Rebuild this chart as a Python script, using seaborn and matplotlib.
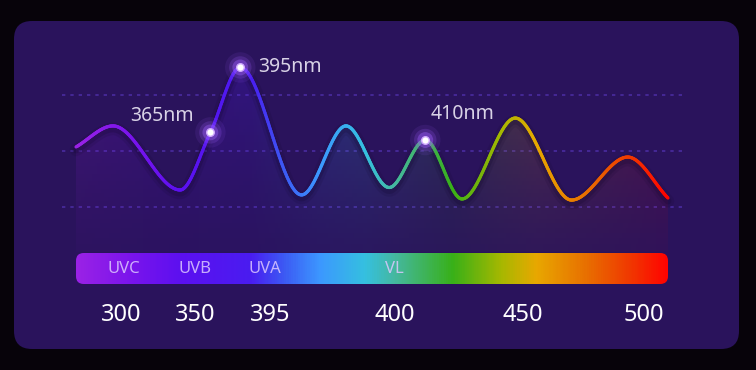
import numpy as np
import seaborn as sns
import matplotlib
matplotlib.use("Agg")
import matplotlib.pyplot as plt
import matplotlib.transforms as mtransforms
from matplotlib.colors import LinearSegmentedColormap
from matplotlib.collections import LineCollection
from matplotlib.patches import FancyBboxPatch

# curve key points (position along the spectrum 0-100, relative intensity)
curve_pos = [0.0, 6.25, 17.6, 22.7, 27.75, 38.1, 45.6, 52.9, 59.0, 65.2, 74.2, 83.7, 93.2, 100.0]
curve_val = [51.8, 61.2, 32.6, 58.3, 87.3, 30.4, 61.2, 33.7, 54.9, 28.6, 64.7, 28.1, 47.3, 29.0]

# highlighted wavelengths
peak_labels = ["365nm", "395nm", "410nm"]
peak_pos = [22.7, 27.75, 59.0]
peak_val = [58.3, 87.3, 54.9]

# axis under the spectrum bar
tick_pos = [7.6, 20.1, 32.8, 53.9, 75.5, 95.9]
tick_labels = ["300", "350", "395", "400", "450", "500"]

# bands written inside the bar
band_labels = ["UVC", "UVB", "UVA", "VL"]
band_pos = [8.0, 20.1, 31.9, 53.7]

grid_levels = [25, 50, 75]

# spectrum colours
spec_stops = [0.0, 0.091, 0.176, 0.294, 0.353, 0.412, 0.488, 0.539, 0.637, 0.721, 0.779, 0.863, 0.936, 1.0]
spec_colors = ["#9a22e6", "#7a14ec", "#5c10f0", "#4a1cf0", "#3c5cf4", "#3c98ff", "#35c0e0",
               "#45b8a0", "#38b018", "#a8b800", "#e8a800", "#e87000", "#f03a00", "#ff0400"]
spec = LinearSegmentedColormap.from_list("spec", list(zip(spec_stops, spec_colors)))


def smooth(xk, yk, n=800):
    # monotone cubic (like a "smooth" line series)
    xk = np.asarray(xk, float); yk = np.asarray(yk, float)
    h = np.diff(xk); d = np.diff(yk) / h
    m = np.zeros_like(xk)
    m[0], m[-1] = d[0], d[-1]
    for k in range(1, len(xk) - 1):
        if d[k - 1] * d[k] > 0:
            w1 = 2 * h[k] + h[k - 1]; w2 = h[k] + 2 * h[k - 1]
            m[k] = (w1 + w2) / (w1 / d[k - 1] + w2 / d[k])
    xs = np.linspace(xk[0], xk[-1], n)
    i = np.clip(np.searchsorted(xk, xs) - 1, 0, len(xk) - 2)
    t = (xs - xk[i]) / h[i]
    h00 = 2*t**3 - 3*t**2 + 1; h10 = t**3 - 2*t**2 + t
    h01 = -2*t**3 + 3*t**2; h11 = t**3 - t**2
    ys = h00*yk[i] + h10*h[i]*m[i] + h01*yk[i+1] + h11*h[i]*m[i+1]
    return xs, ys


sns.set_theme(style="dark")
plt.rcParams["font.family"] = ["Noto Sans", "DejaVu Sans"]

fig = plt.figure(figsize=(7.56, 3.70), dpi=100)
fig.patch.set_facecolor("#07030a")

# card
bg = fig.add_axes([0, 0, 1, 1])
bg.set_xlim(0, 756); bg.set_ylim(370, 0); bg.axis("off")
bg.add_patch(FancyBboxPatch((14, 21), 725, 328, boxstyle="round,pad=0,rounding_size=18",
                            fc="#2a135c", ec="none"))

ax = fig.add_axes([62/756, 1 - 263/370, 623/756, 224/370])
ax.set_facecolor("none")
ax.set_xlim(-14/5.92, 100 + 17/5.92)
ax.set_ylim(0, 100)
for s in ax.spines.values():
    s.set_visible(False)
ax.set_xticks([]); ax.set_yticks([])
ax.grid(False)
for g in grid_levels:
    ax.axhline(g, color="#4a2ca0", lw=1.2, linestyle=(0, (2, 3)), zorder=1)

xs, ys = smooth(curve_pos, curve_val)

# gradient area under the curve
H = 200
rows = np.linspace(0, 100, H)
img = np.zeros((H, len(xs), 4))
img[:, :, :3] = spec(xs / 100)[None, :, :3]
img[:, :, 3] = (0.03 + 0.24 * (rows / 100) ** 1.3)[:, None]
im = ax.imshow(img, extent=(0, 100, 0, 100), origin="lower", aspect="auto", zorder=2,
               interpolation="bilinear")
area = ax.fill_between(xs, ys, 5, color="none", lw=0)
im.set_clip_path(area.get_paths()[0], ax.transData)

# soft shadow under the line
shadow = mtransforms.offset_copy(ax.transData, fig=fig, x=0, y=-3, units="dots")
for w, a in [(9, 0.12), (5, 0.2)]:
    sns.lineplot(x=xs, y=ys, ax=ax, color="#12062a", lw=w, alpha=a, zorder=3)
    ax.lines[-1].set_transform(shadow)

pts = np.column_stack([xs, ys]).reshape(-1, 1, 2)
segs = np.concatenate([pts[:-1], pts[1:]], axis=1)
lc = LineCollection(segs, colors=spec(xs[:-1] / 100), lw=2.3, capstyle="round", zorder=4)
ax.add_collection(lc)

# glowing markers
for size, a in [(480, 0.10), (260, 0.2), (130, 0.4)]:
    sns.scatterplot(x=peak_pos, y=peak_val, ax=ax, s=size, color="#a060ff", alpha=a,
                    edgecolor="none", zorder=5, legend=False)
sns.scatterplot(x=peak_pos, y=peak_val, ax=ax, s=30, color="white", edgecolor="#d0a8ff",
                linewidth=1, zorder=6, legend=False)

label_offsets = [(-12, 12, "right"), (13, 0, "left"), (4, 19, "left")]
for lab, px, py, (dx, dy, ha) in zip(peak_labels, peak_pos, peak_val, label_offsets):
    ax.annotate(lab, (px, py), xytext=(dx, dy), textcoords="offset points", ha=ha, va="center",
                fontsize=14, color="#d8d2e6", zorder=7)

# spectrum bar
bax = fig.add_axes([76/756, 1 - 284/370, 592/756, 31/370])
bax.set_facecolor("none")
bax.set_xlim(0, 100); bax.set_ylim(0, 1)
for s in bax.spines.values():
    s.set_visible(False)
grad = spec(np.linspace(0, 1, 600))[None, :, :]
bim = bax.imshow(grad, extent=(0, 100, 0, 1), aspect="auto", interpolation="bilinear")
clip = FancyBboxPatch((0, 0), 100, 1, boxstyle="round,pad=0,rounding_size=1.3",
                      mutation_aspect=5.92/31, transform=bax.transData, fc="none", ec="none")
bax.add_patch(clip)
bim.set_clip_path(clip)
for lab, px in zip(band_labels, band_pos):
    bax.text(px, 0.47, lab, ha="center", va="center", fontsize=12, color="#dcc8ff", alpha=0.85)
bax.set_yticks([])
bax.set_xticks(tick_pos, tick_labels)
bax.tick_params(axis="x", length=0, pad=14, labelsize=17, labelcolor="white")
bax.grid(False)

fig.savefig("out.png", dpi=100, facecolor=fig.get_facecolor())
